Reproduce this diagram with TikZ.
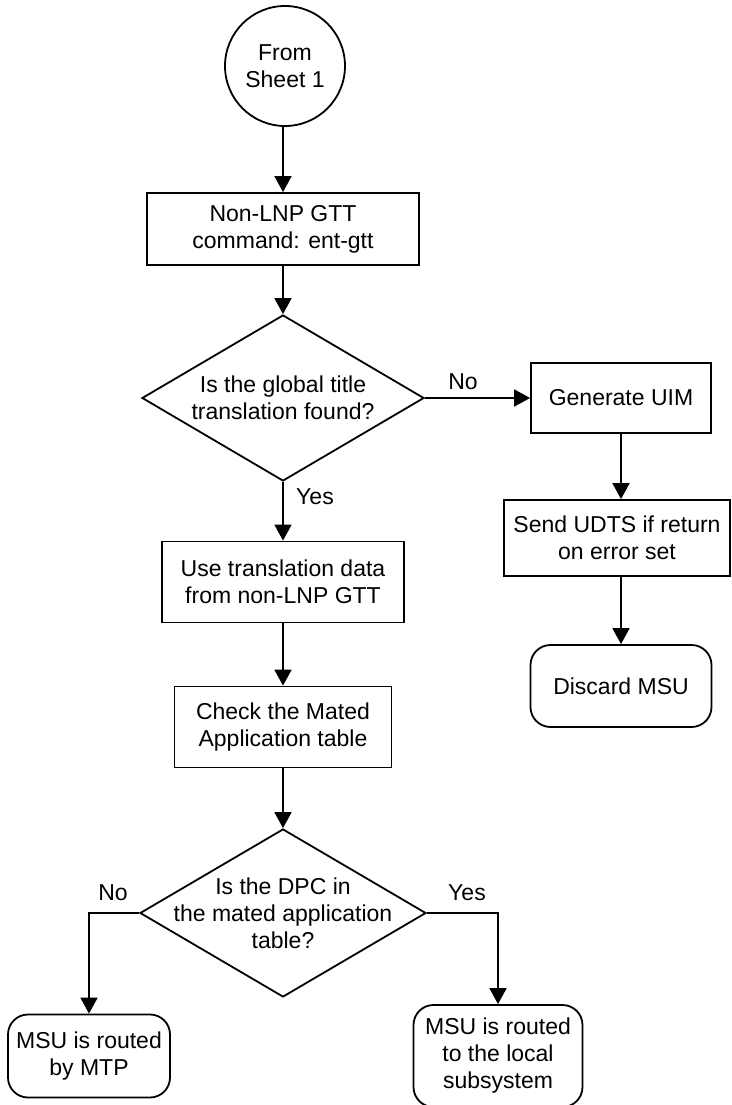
\documentclass[tikz,border=0pt]{standalone}
\usepackage{fontspec}
\setmainfont{Liberation Sans}
\usetikzlibrary{shapes.geometric,arrows.meta}
\begin{document}
\begin{tikzpicture}[x=1pt,y=-1pt, line width=1.8pt,
  every node/.style={font=\fontsize{23pt}{27pt}\selectfont, align=center},
  box/.style={draw, rectangle, inner sep=0pt},
  term/.style={draw, rectangle, rounded corners=20pt, inner sep=0pt},
  dec/.style={draw, diamond, inner sep=0pt},
  arr/.style={-{Triangle[length=16pt,width=17pt]}},
  lab/.style={inner sep=0pt}]
\useasboundingbox (0,0) rectangle (731,1105);
\node[draw,circle,minimum size=120pt,inner sep=0pt] (start) at (285,66) {From\\Sheet 1};
\node[box,minimum width=272pt,minimum height=72pt] (b1) at (283,229) {Non-LNP GTT\\command: ent-gtt};
\node[dec,minimum width=282pt,minimum height=166pt,
  label={[name=d1t]center:{Is the global title\\translation found?}}] (d1) at (283,398) {};
\node[box,minimum width=180pt,minimum height=70pt] (gen) at (621,398) {Generate UIM};
\node[box,minimum width=226pt,minimum height=76pt] (udts) at (617,538) {Send UDTS if return\\on error set};
\node[term,minimum width=181pt,minimum height=82pt] (disc) at (621,686) {Discard MSU};
\node[box,minimum width=242pt,minimum height=81pt] (use) at (283,582) {Use translation data\\from non-LNP GTT};
\node[box,minimum width=217pt,minimum height=81pt] (chk) at (283,727) {Check the Mated\\Application table};
\node[dec,minimum width=286pt,minimum height=168pt,
  label={[name=d2t]center:{Is the DPC in\\the mated application\\table?}}] (d2) at (283,913) {};
\node[term,minimum width=162pt,minimum height=83pt] (mtp) at (89,1056) {MSU is routed\\by MTP};
\node[term,minimum width=169pt,minimum height=102pt] (loc) at (498,1056) {MSU is routed\\to the local\\subsystem};
\node[lab] (no1) at (463,382) {No};
\node[lab] (yes1) at (315,497) {Yes};
\node[lab] (no2) at (113,893) {No};
\node[lab] (yes2) at (467,893) {Yes};
\draw[arr] (start.south -| b1.north) -- (b1.north);
\draw[arr] (b1) -- (d1);
\draw[arr] (d1.east) -- (gen.west);
\draw[arr] (gen.south) -- (gen.south |- udts.north);
\draw[arr] (disc.north |- udts.south) -- (disc.north);
\draw[arr] (d1.south) -- (use.north);
\draw[arr] (use) -- (chk);
\draw[arr] (chk) -- (d2);
\draw[arr] (d2.west) -| (mtp.north);
\draw[arr] (d2.east) -| (loc.north);
\end{tikzpicture}
\end{document}
